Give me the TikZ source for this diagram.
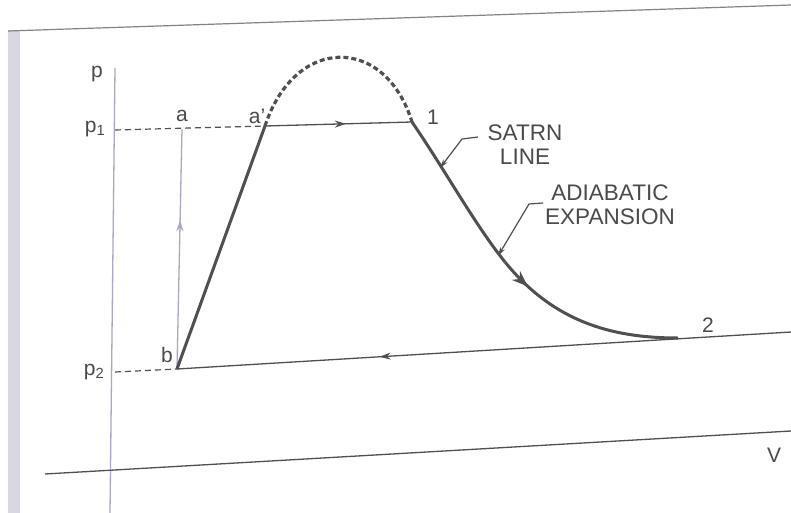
\documentclass[tikz,border=0pt]{standalone}
\usepackage{fontspec}
\setmainfont{Liberation Sans}
\usetikzlibrary{arrows.meta,decorations.markings}
\definecolor{ink}{HTML}{505050}
\definecolor{axisc}{HTML}{A8A8C4}
\definecolor{txt}{HTML}{4A4A4A}
\tikzset{
  lbl/.style={text=txt,font=\fontsize{21}{23}\selectfont,inner sep=0pt},
  biglbl/.style={text=txt,font=\fontsize{22.5}{24}\selectfont,inner sep=0pt,align=center},
  axisline/.style={draw=axisc,line width=1.3pt},
  thinline/.style={draw=ink,line width=1.3pt},
  thickline/.style={draw=ink,line width=3pt},
  dashline/.style={draw=ink,line width=1.2pt,dash pattern=on 6pt off 4pt},
  domeline/.style={draw=ink,line width=3.2pt,dash pattern=on 5pt off 3pt},
  midarrow/.style={postaction={decorate},decoration={markings,
     mark=at position #1 with {\arrow{Stealth[length=11pt,width=7pt]}}}},
  pointer/.style={draw=ink,line width=1.2pt,-{Stealth[length=9pt,width=5pt]}},
}
\begin{document}
\begin{tikzpicture}[x=1pt,y=-1pt]
\useasboundingbox (0,0) rectangle (791,513);
\fill[white] (0,0) rectangle (791,513);
% scan border strip and top rule
\fill[axisc!45] (8,30) rectangle (20,513);
\coordinate (TL) at (8,31);
\coordinate (TR) at (791,5);
\draw[draw=ink!70,line width=1.2pt] (TL) -- (TR);
% axes
\coordinate (ptop) at (115,68);
\coordinate (pbot) at (110,513);
\draw[axisline] (ptop) -- (pbot);
\coordinate (VL) at (45,474);
\coordinate (VR) at (791,431);
\draw[thinline] (VL) -- (VR);
% key points
\coordinate (P1) at (115,130);
\coordinate (P2) at (115,372);
\coordinate (A) at (182,129);
\coordinate (Ap) at (265,126);
\coordinate (one) at (412,122);
\coordinate (B) at (177,369);
\coordinate (two) at (678,338);
\coordinate (R2) at (791,332);
% dashed pressure lines
\draw[dashline] (P1) -- (Ap);
\draw[dashline] (P2) -- (B);
% a-b pump line
\draw[axisline,midarrow=0.62] (B) -- (A);
% liquid line b-a'
\draw[thickline] (B) -- (Ap);
% dome
\draw[domeline] (Ap) .. controls (295,35) and (385,35) .. (one);
% evaporation a'-1
\draw[thinline,midarrow=0.55] (Ap) -- (one);
% expansion 1-2
\coordinate (mid) at (505,262);
\draw[thickline] (one) .. controls (445,170) and (475,225) .. (mid);
\draw[thickline,postaction={decorate},decoration={markings,
   mark=at position 0.17 with {\arrow{Stealth[length=16pt,width=12pt]}}}]
   (mid) .. controls (553,321) and (610,338) .. (two);
% condensation 2-b
\draw[thinline,midarrow=0.67] (R2) -- (B);
% labels
\node[lbl] (lp) at (97,74) {p};
\node[lbl] (lp1) at (95,129) {p\textsubscript{1}};
\node[lbl] (lp2) at (94,372) {p\textsubscript{2}};
\node[lbl] (la) at (182,116) {a};
\node[lbl] (lap) at (257,116) {a'};
\node[lbl] (l1) at (433,117) {1};
\node[lbl] (l2) at (708,325) {2};
\node[lbl] (lb) at (167,355) {b};
\node[lbl] (lV) at (774,455) {V};
\node[biglbl] (sat) at (525,145) {SATRN\\LINE};
\node[biglbl] (adi) at (610,205) {ADIABATIC\\EXPANSION};
% pointers
\coordinate (s0) at (478,137);
\coordinate (s1) at (462,139);
\coordinate (s2) at (440,168);
\draw[pointer] (s0) -- (s1) -- (s2);
\coordinate (e0) at (543,203);
\coordinate (e1) at (529,204);
\coordinate (e2) at (498,256);
\draw[pointer] (e0) -- (e1) -- (e2);
\end{tikzpicture}
\end{document}
